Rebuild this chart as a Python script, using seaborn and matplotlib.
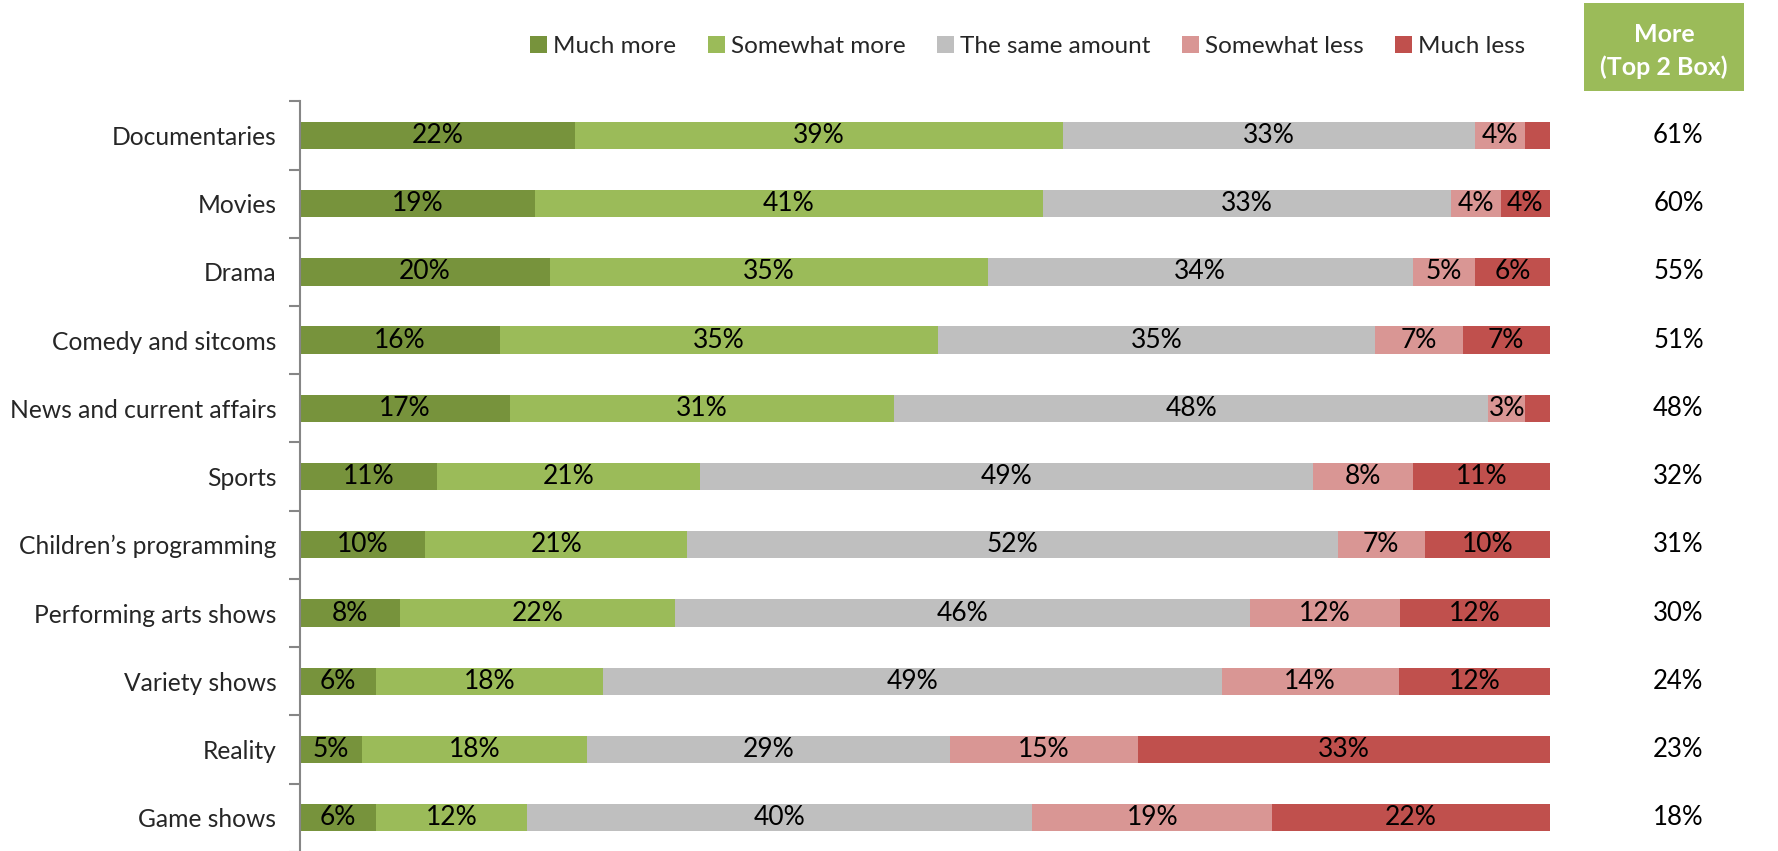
import matplotlib
matplotlib.use("Agg")
import matplotlib.pyplot as plt
import matplotlib.transforms as mtransforms
from matplotlib.patches import Rectangle, Patch
import numpy as np
import pandas as pd
import seaborn as sns

# Survey data: change in viewing by programme genre (%)
genres = ["Documentaries", "Movies", "Drama", "Comedy and sitcoms",
          "News and current affairs", "Sports", "Children\u2019s programming",
          "Performing arts shows", "Variety shows", "Reality", "Game shows"]
much_more = [22, 19, 20, 16, 17, 11, 10, 8, 6, 5, 6]
somewhat_more = [39, 41, 35, 35, 31, 21, 21, 22, 18, 18, 12]
same_amount = [33, 33, 34, 35, 48, 49, 52, 46, 49, 29, 40]
somewhat_less = [4, 4, 5, 7, 3, 8, 7, 12, 14, 15, 19]
much_less = [2, 4, 6, 7, 2, 11, 10, 12, 12, 33, 22]
top2_box = [61, 60, 55, 51, 48, 32, 31, 30, 24, 23, 18]

series_names = ["Much more", "Somewhat more", "The same amount",
                "Somewhat less", "Much less"]
series_vals = [much_more, somewhat_more, same_amount, somewhat_less, much_less]
colors = ["#77933C", "#9BBB59", "#BFBFBF", "#D99694", "#C0504D"]

sns.set_theme(style="white")
plt.rcParams["font.family"] = ["Lato", "DejaVu Sans"]

vals = np.array(series_vals, dtype=float)          # shape (5, n)
shares = vals / vals.sum(axis=0)                    # 100% stacked
cum = np.cumsum(shares, axis=0)
starts = cum - shares

fig = plt.figure(figsize=(17.78, 8.51), dpi=100)
ax = fig.add_axes([0.1687, -0.001, 0.7031, 0.882])

# Draw cumulative totals from the outermost segment inward
for i in range(len(series_names) - 1, -1, -1):
    df = pd.DataFrame({"genre": genres, "value": cum[i]})
    sns.barplot(data=df, x="value", y="genre", orient="h", color=colors[i],
                width=0.4, saturation=1, ax=ax, linewidth=0)

# Segment value labels
for i in range(len(series_names)):
    for j in range(len(genres)):
        v = series_vals[i][j]
        if v >= 3:
            ax.text(starts[i, j] + shares[i, j] / 2, j, f"{v}%",
                    ha="center", va="center", fontsize=19, color="black")

ax.set_xlim(0, 1)
ax.set_ylim(len(genres) - 0.5, -0.5)
ax.set_xlabel("")
ax.set_ylabel("")
ax.set_xticks([])
for s in ["top", "right", "bottom"]:
    ax.spines[s].set_visible(False)
ax.spines["left"].set_color("#868686")
ax.spines["left"].set_linewidth(1.5)
ax.set_yticks(np.arange(-0.5, len(genres), 1.0), minor=True)
ax.tick_params(axis="y", which="major", length=0, pad=17, labelsize=17.7)
ax.tick_params(axis="y", which="minor", length=8, width=1.5,
               color="#868686", left=True)

# Legend across the top
handles = [Patch(facecolor=c, edgecolor="none") for c in colors]
fig.legend(handles, series_names, loc="center", bbox_to_anchor=(0.578, 0.945),
           ncol=5, frameon=False, fontsize=17.5, handlelength=0.7,
           handleheight=0.7, handletextpad=0.25, columnspacing=1.3)

# Top 2 box column header and values
fig.patches.append(Rectangle((0.891, 0.893), 0.09, 0.103,
                             transform=fig.transFigure, facecolor="#9BBB59",
                             edgecolor="none"))
fig.text(0.936, 0.94, "More\n(Top 2 Box)", ha="center", va="center",
         color="white", fontsize=18, fontweight="bold", linespacing=1.45)
trans = mtransforms.blended_transform_factory(fig.transFigure, ax.transData)
for j, v in enumerate(top2_box):
    ax.text(0.944, j, f"{v}%", transform=trans, ha="center", va="center",
            fontsize=18.5, color="black")

fig.savefig("out.png", dpi=100)
